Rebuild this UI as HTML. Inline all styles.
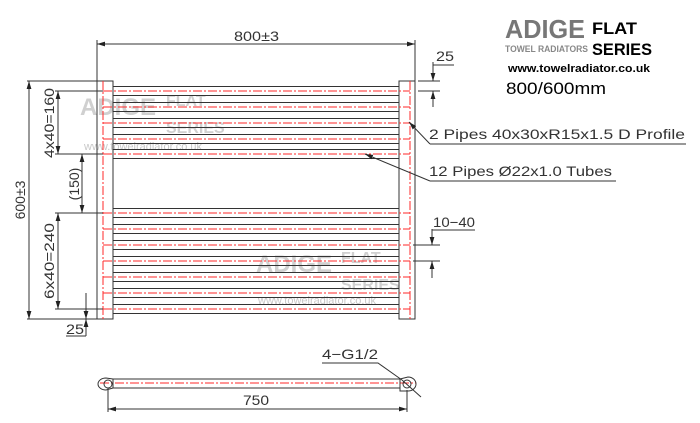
<!DOCTYPE html>
<html><head><style>
html,body{margin:0;padding:0;background:#fff;}
svg{display:block;}
text{font-family:"Liberation Sans",sans-serif;}
</style></head><body>
<svg width="700" height="423" viewBox="0 0 700 423" xmlns="http://www.w3.org/2000/svg">
<defs>
<marker id="a" viewBox="0 0 10 6" refX="10" refY="3" markerWidth="8" markerHeight="5" orient="auto-start-reverse" markerUnits="userSpaceOnUse"><path d="M0,0L10,3L0,6z" fill="#222"/></marker>
</defs>
<g font-weight="bold">
<text x="80" y="115" font-size="24" fill="#d0d0d0">ADIGE</text>
<text x="166" y="106" font-size="16" fill="#d0d0d0">FLAT</text>
<text x="166" y="133" font-size="16" fill="#d0d0d0">SERIES</text>
<text x="84" y="150" font-size="11" font-weight="normal" fill="#c8c8c8">www.towelradiator.co.uk</text>
<text x="256" y="272" font-size="24" fill="#d0d0d0">ADIGE</text>
<text x="341" y="263" font-size="16" fill="#d0d0d0">FLAT</text>
<text x="341" y="290" font-size="16" fill="#d0d0d0">SERIES</text>
<text x="258" y="304" font-size="11" font-weight="normal" fill="#c8c8c8">www.towelradiator.co.uk</text>
</g>
<g stroke="#333" stroke-width="1" fill="none">
<rect x="97" y="81" width="16" height="238"/>
<rect x="399" y="81" width="16" height="238"/>
<rect x="113" y="86.5" width="286" height="9"/>
<rect x="113" y="102.5" width="286" height="9"/>
<rect x="113" y="118.5" width="286" height="9"/>
<rect x="113" y="134.5" width="286" height="9"/>
<rect x="113" y="149.5" width="286" height="9"/>
<rect x="113" y="208.5" width="286" height="9"/>
<rect x="113" y="224.5" width="286" height="9"/>
<rect x="113" y="240.5" width="286" height="9"/>
<rect x="113" y="256.5" width="286" height="9"/>
<rect x="113" y="272.5" width="286" height="9"/>
<rect x="113" y="288.5" width="286" height="9"/>
<rect x="113" y="304.5" width="286" height="9"/>
</g>
<g stroke="#ff2a2a" stroke-width="1" stroke-dasharray="9,2,2,2" fill="none">
<line x1="103" y1="81" x2="103" y2="319"/>
<line x1="410" y1="81" x2="410" y2="319"/>
<line x1="103" y1="91" x2="410" y2="91"/>
<line x1="103" y1="107" x2="410" y2="107"/>
<line x1="103" y1="123" x2="410" y2="123"/>
<line x1="103" y1="139" x2="410" y2="139"/>
<line x1="103" y1="154" x2="410" y2="154"/>
<line x1="103" y1="213" x2="410" y2="213"/>
<line x1="103" y1="229" x2="410" y2="229"/>
<line x1="103" y1="245" x2="410" y2="245"/>
<line x1="103" y1="261" x2="410" y2="261"/>
<line x1="103" y1="277" x2="410" y2="277"/>
<line x1="103" y1="293" x2="410" y2="293"/>
<line x1="103" y1="309" x2="410" y2="309"/>
<line x1="100" y1="383" x2="416" y2="383"/>
</g>
<g stroke="#333" stroke-width="1" fill="none">
<line x1="97" y1="40" x2="97" y2="81"/>
<line x1="415" y1="40" x2="415" y2="81"/>
<line x1="97" y1="44" x2="415" y2="44" marker-start="url(#a)" marker-end="url(#a)"/>
<line x1="27" y1="81" x2="97" y2="81"/>
<line x1="27" y1="319" x2="97" y2="319"/>
<line x1="29" y1="81" x2="29" y2="319" marker-start="url(#a)" marker-end="url(#a)"/>
<line x1="55" y1="91" x2="103" y2="91"/>
<line x1="55" y1="154" x2="103" y2="154"/>
<line x1="55" y1="213" x2="103" y2="213"/>
<line x1="55" y1="309" x2="103" y2="309"/>
<line x1="58" y1="91" x2="58" y2="154" marker-start="url(#a)" marker-end="url(#a)"/>
<line x1="82" y1="154" x2="82" y2="213" marker-start="url(#a)" marker-end="url(#a)"/>
<line x1="58" y1="213" x2="58" y2="309" marker-start="url(#a)" marker-end="url(#a)"/>
<line x1="86" y1="293" x2="86" y2="319" marker-end="url(#a)"/>
<line x1="86" y1="336" x2="86" y2="319" marker-end="url(#a)"/>
<polyline points="66,336 86,336"/>
<line x1="418" y1="81" x2="440" y2="81"/>
<line x1="418" y1="91" x2="440" y2="91"/>
<line x1="433" y1="62" x2="433" y2="81" marker-end="url(#a)"/>
<line x1="433" y1="107" x2="433" y2="91" marker-end="url(#a)"/>
<polyline points="433,62 433,65 454,65"/>
<line x1="413" y1="245" x2="440" y2="245"/>
<line x1="413" y1="261" x2="440" y2="261"/>
<line x1="432" y1="229" x2="432" y2="245" marker-end="url(#a)"/>
<line x1="432" y1="278" x2="432" y2="261" marker-end="url(#a)"/>
<polyline points="432,229 432,230 475,230"/>
<polyline points="430,144 686,144"/>
<line x1="430" y1="144" x2="409" y2="122" marker-end="url(#a)"/>
<polyline points="430,181 616,181"/>
<line x1="430" y1="181" x2="365" y2="154" marker-end="url(#a)"/>
<rect x="113" y="379" width="287" height="9"/>
<path d="M113,379 L106,378 A8,6 0 0 0 106,390 L113,388"/>
<circle cx="108" cy="384" r="4"/>
<path d="M400,379 L408,377 A8,7 0 0 1 408,391 L400,391 Z"/>
<circle cx="407" cy="384" r="4"/>
<line x1="108" y1="388" x2="108" y2="412"/>
<line x1="407" y1="390" x2="407" y2="412"/>
<line x1="108" y1="409" x2="407" y2="409" marker-start="url(#a)" marker-end="url(#a)"/>
<polyline points="322,363 378,363 402,380"/>
<line x1="402" y1="380" x2="421" y2="397"/>
</g>
<g fill="#333" font-size="14">
<text x="234" y="41" textLength="45" lengthAdjust="spacingAndGlyphs">800±3</text>
<text x="436" y="61" textLength="18" lengthAdjust="spacingAndGlyphs">25</text>
<text x="433" y="227" textLength="42" lengthAdjust="spacingAndGlyphs">10−40</text>
<text x="66" y="334" textLength="18" lengthAdjust="spacingAndGlyphs">25</text>
<text x="243" y="405" textLength="26" lengthAdjust="spacingAndGlyphs">750</text>
<text x="322" y="359" textLength="56" lengthAdjust="spacingAndGlyphs">4−G1/2</text>
<text x="429" y="139" textLength="256" lengthAdjust="spacingAndGlyphs">2 Pipes 40x30xR15x1.5 D Profile</text>
<text x="429" y="176" textLength="183" lengthAdjust="spacingAndGlyphs">12 Pipes Ø22x1.0 Tubes</text>
<text transform="translate(25,200) rotate(-90)" text-anchor="middle">600±3</text>
<text transform="translate(54,123) rotate(-90)" text-anchor="middle" textLength="70" lengthAdjust="spacingAndGlyphs">4x40=160</text>
<text transform="translate(79,184) rotate(-90)" text-anchor="middle">(150)</text>
<text transform="translate(54,261) rotate(-90)" text-anchor="middle" textLength="76" lengthAdjust="spacingAndGlyphs">6x40=240</text>
</g>
<text x="505" y="38" font-size="26" font-weight="bold" fill="#777" textLength="80" lengthAdjust="spacingAndGlyphs">ADIGE</text>
<text x="505" y="52" font-size="9" fill="#888" font-weight="bold" textLength="83" lengthAdjust="spacingAndGlyphs">TOWEL RADIATORS</text>
<text x="592" y="34" font-size="17" font-weight="bold" fill="#000" textLength="45" lengthAdjust="spacingAndGlyphs">FLAT</text>
<text x="592" y="55" font-size="17" font-weight="bold" fill="#000" textLength="60" lengthAdjust="spacingAndGlyphs">SERIES</text>
<text x="508" y="72" font-size="11" font-weight="bold" fill="#000" textLength="142" lengthAdjust="spacingAndGlyphs">www.towelradiator.co.uk</text>
<text x="506" y="94" font-size="17" fill="#000" textLength="100" lengthAdjust="spacingAndGlyphs">800/600mm</text>
</svg>
</body></html>
